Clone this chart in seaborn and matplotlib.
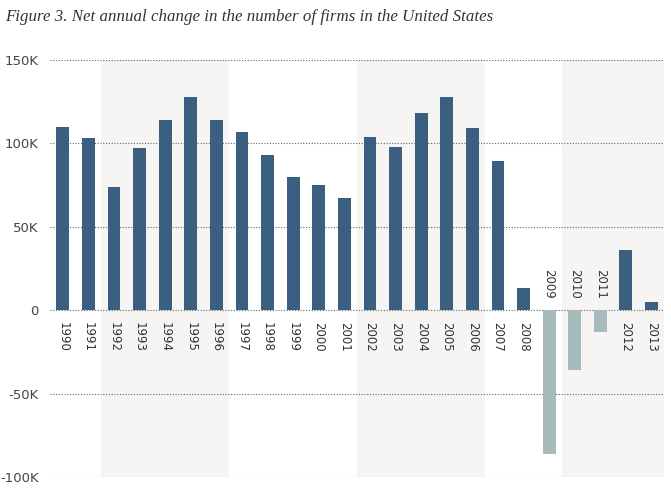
import pandas as pd
import seaborn as sns
import matplotlib.pyplot as plt

# values (thousands of firms, net change)
years = list(range(1990, 2014))
net_change = [110, 103, 74, 97, 114, 128, 114, 107, 93, 80, 75, 67,
              104, 98, 118, 128, 109, 89.6, 13, -86, -36, -13, 36, 5]
# blocks of years with the light background band
shaded_blocks = [(1992, 1996), (2002, 2006), (2010, 2013)]
ytick_values = [-100, -50, 0, 50, 100, 150]
ytick_labels = ['-100K', '-50K', '0', '50K', '100K', '150K']

df = pd.DataFrame({'year': [str(y) for y in years],
                   'change': [v * 1000 for v in net_change]})
df['sign'] = ['pos' if v >= 0 else 'neg' for v in df['change']]

sns.set_theme(style='white')
plt.rcParams['font.family'] = ['DejaVu Sans']

fig = plt.figure(figsize=(6.71, 4.91), dpi=100)
ax = fig.add_axes([0.0745, 0.0285, 0.9155, 0.8495])

#background bands behind the bars
for start, end in shaded_blocks:
    x0 = years.index(start) - 0.5
    x1 = years.index(end) + 0.5
    ax.axvspan(x0, x1, color='#f7f4f4', zorder=0, lw=0)

for v in ytick_values:
    ax.axhline(v * 1000, color='#666666', ls=(0, (1, 1.5)), lw=0.8, zorder=1)

sns.barplot(data=df, x='year', y='change', hue='sign', dodge=False,
            palette={'pos': '#3a5f80', 'neg': '#a7bbbd'},
            width=0.5, legend=False, ax=ax, zorder=2, saturation=1,
            linewidth=0, edgecolor='none')

#year labels sit next to the zero line, on the side away from the bar
for i, (y, v) in enumerate(zip(years, net_change)):
    if v >= 0:
        ax.text(i, -7000, str(y), rotation=270, ha='center', va='top',
                fontsize=8.5, color='#333333')
    else:
        ax.text(i, 7000, str(y), rotation=270, ha='center', va='bottom',
                fontsize=8.5, color='#333333')

ax.set_xlim(-0.5, len(years) - 0.5)
ax.set_ylim(-100000, 150000)
ax.set_yticks([v * 1000 for v in ytick_values])
ax.set_yticklabels(ytick_labels, fontsize=9.5, color='#444444')
ax.tick_params(axis='y', length=0, pad=8)
ax.set_xticks([])
ax.set_xlabel('')
ax.set_ylabel('')
sns.despine(ax=ax, left=True, bottom=True)

fig.text(0.008, 0.965, 'Figure 3. Net annual change in the number of firms in the United States',
         family='Liberation Serif', style='italic', fontsize=12.2, color='#333333',
         va='center', ha='left')

plt.savefig('out.png', dpi=100)
print("done")
